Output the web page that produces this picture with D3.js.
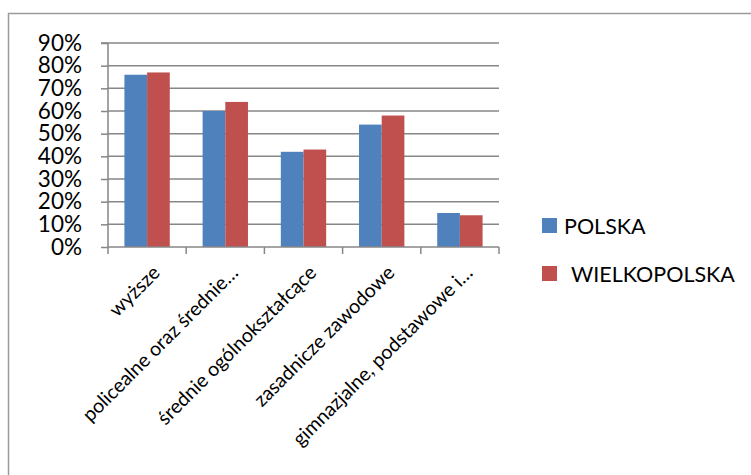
<!DOCTYPE html>
<html><head><meta charset="utf-8">
<script src="https://cdn.jsdelivr.net/npm/d3@7"></script>
<style>body{margin:0;background:#fff}svg{display:block}text{font-family:Lato,"Open Sans",sans-serif;fill:#000}</style>
</head><body><svg id="c" width="751" height="475"></svg>
<script>
const categories = ["wyższe","policealne oraz średnie…","średnie ogólnokształcące","zasadnicze zawodowe","gimnazjalne, podstawowe i…"];
const seriesNames = ["POLSKA","WIELKOPOLSKA"];
const polska = [0.76,0.60,0.42,0.54,0.15];
const wielkopolska = [0.77,0.64,0.43,0.58,0.14];
const yTicks = [0,0.1,0.2,0.3,0.4,0.5,0.6,0.7,0.8,0.9];
const colors = ["#4F81BD","#C0504D"];

const svg = d3.select("#c");
svg.append("rect").attr("x",8.5).attr("y",13.5).attr("width",760).attr("height",480)
  .attr("fill","#fff").attr("stroke","#9a9a9a").attr("stroke-width",1.5);

const L=108, R=499, T=43, B=247;
const x = d3.scaleBand().domain(categories).range([L,R]).paddingInner(0.42).paddingOuter(0.21);
const xs = d3.scaleBand().domain(seriesNames).range([0,x.bandwidth()]);
const y = d3.scaleLinear().domain([0,0.9]).range([B,T]);
const grid="#878787";

svg.append("g").selectAll("line").data(yTicks.slice(1)).join("line")
  .attr("x1",L).attr("x2",R).attr("y1",d=>y(d)).attr("y2",d=>y(d))
  .attr("stroke",grid).attr("stroke-width",1.5);

const data = categories.map((c,i)=>({c, v:[polska[i],wielkopolska[i]]}));
const g = svg.append("g").selectAll("g").data(data).join("g").attr("transform",d=>`translate(${x(d.c)},0)`);
g.selectAll("rect").data(d=>d.v.map((v,j)=>({v,s:seriesNames[j],j}))).join("rect")
  .attr("x",d=>xs(d.s)).attr("width",xs.bandwidth()).attr("y",d=>y(d.v)).attr("height",d=>B-y(d.v))
  .attr("fill",d=>colors[d.j]);

// y axis
const ya = svg.append("g").attr("transform",`translate(${L},0)`)
  .call(d3.axisLeft(y).tickValues(yTicks).tickFormat(d3.format(".0%")).tickSize(7).tickPadding(19));
ya.select(".domain").attr("stroke",grid).attr("stroke-width",1.5).attr("d",`M-7,${T}H0V${B}`);
ya.selectAll(".tick line").attr("stroke",grid).attr("stroke-width",1.5);
ya.selectAll("text").attr("font-size",22.5).attr("font-family","Lato");

// x axis
const xa = svg.append("g").attr("transform",`translate(0,${B})`);
xa.append("line").attr("x1",L).attr("x2",R).attr("stroke",grid).attr("stroke-width",1.5);
const bounds = categories.map(c=>x(c)-x.step()*x.paddingInner()/2).concat([R]);
bounds[0]=L;
xa.selectAll(".tk").data(bounds).join("line").attr("class","tk")
  .attr("x1",d=>d).attr("x2",d=>d).attr("y1",0).attr("y2",7).attr("stroke",grid).attr("stroke-width",1.5);
xa.selectAll(".lbl").data(categories).join("text").attr("class","lbl")
  .attr("transform",c=>`translate(${x(c)+x.bandwidth()/2+14},${27}) rotate(-45)`)
  .attr("text-anchor","end").attr("font-size",19.6).text(c=>c);

// legend
const lg = svg.append("g").selectAll("g").data(seriesNames).join("g")
  .attr("transform",(d,i)=>`translate(542,${218+i*48})`);
lg.append("rect").attr("width",15).attr("height",15).attr("fill",(d,i)=>colors[i]);
lg.append("text").attr("x",(d,i)=>i?29:22).attr("y",15.5).attr("font-size",21.5).text(d=>d);
</script></body></html>
